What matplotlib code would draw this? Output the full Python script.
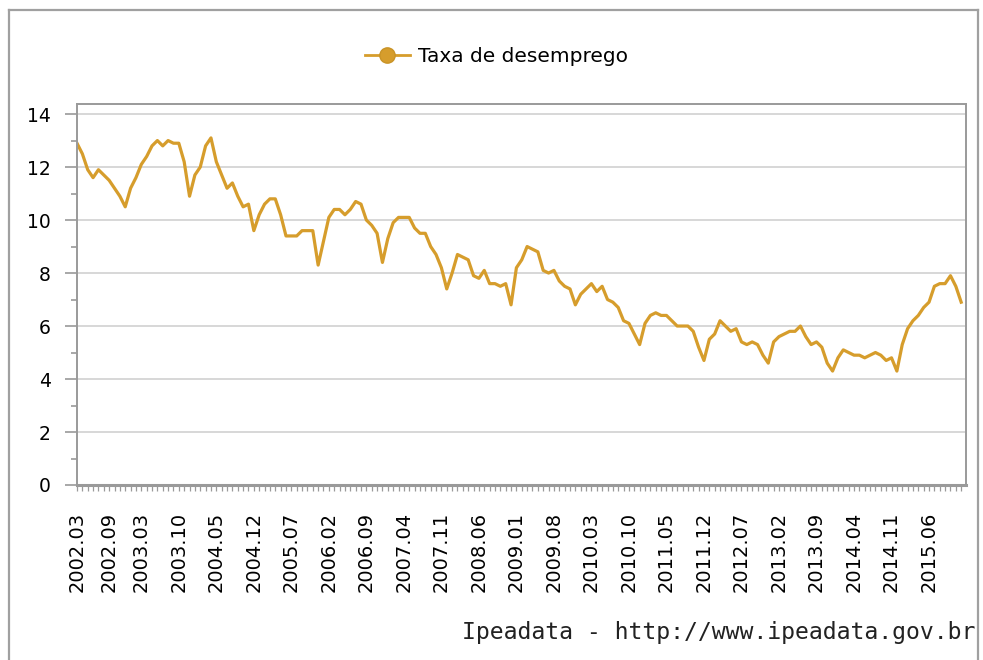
import numpy as np
import matplotlib
matplotlib.use("Agg")
import matplotlib.pyplot as plt
from matplotlib.lines import Line2D

# monthly unemployment rate (PME), 2002.03 .. 2015.12
start_year, start_month = 2002, 3
rate = [
    12.9, 12.5, 11.9, 11.6, 11.9, 11.7, 11.5, 11.2, 10.9, 10.5,             # 2002
    11.2, 11.6, 12.1, 12.4, 12.8, 13.0, 12.8, 13.0, 12.9, 12.9, 12.2, 10.9,  # 2003
    11.7, 12.0, 12.8, 13.1, 12.2, 11.7, 11.2, 11.4, 10.9, 10.5, 10.6, 9.6,   # 2004
    10.2, 10.6, 10.8, 10.8, 10.2, 9.4, 9.4, 9.4, 9.6, 9.6, 9.6, 8.3,         # 2005
    9.2, 10.1, 10.4, 10.4, 10.2, 10.4, 10.7, 10.6, 10.0, 9.8, 9.5, 8.4,      # 2006
    9.3, 9.9, 10.1, 10.1, 10.1, 9.7, 9.5, 9.5, 9.0, 8.7, 8.2, 7.4,           # 2007
    8.0, 8.7, 8.6, 8.5, 7.9, 7.8, 8.1, 7.6, 7.6, 7.5, 7.6, 6.8,              # 2008
    8.2, 8.5, 9.0, 8.9, 8.8, 8.1, 8.0, 8.1, 7.7, 7.5, 7.4, 6.8,              # 2009
    7.2, 7.4, 7.6, 7.3, 7.5, 7.0, 6.9, 6.7, 6.2, 6.1, 5.7, 5.3,              # 2010
    6.1, 6.4, 6.5, 6.4, 6.4, 6.2, 6.0, 6.0, 6.0, 5.8, 5.2, 4.7,              # 2011
    5.5, 5.7, 6.2, 6.0, 5.8, 5.9, 5.4, 5.3, 5.4, 5.3, 4.9, 4.6,              # 2012
    5.4, 5.6, 5.7, 5.8, 5.8, 6.0, 5.6, 5.3, 5.4, 5.2, 4.6, 4.3,              # 2013
    4.8, 5.1, 5.0, 4.9, 4.9, 4.8, 4.9, 5.0, 4.9, 4.7, 4.8, 4.3,              # 2014
    5.3, 5.9, 6.2, 6.4, 6.7, 6.9, 7.5, 7.6, 7.6, 7.9, 7.5, 6.9,              # 2015
]
tick_labels = ["2002.03", "2002.09", "2003.03", "2003.10", "2004.05", "2004.12",
               "2005.07", "2006.02", "2006.09", "2007.04", "2007.11", "2008.06",
               "2009.01", "2009.08", "2010.03", "2010.10", "2011.05", "2011.12",
               "2012.07", "2013.02", "2013.09", "2014.04", "2014.11", "2015.06"]
y_ticks = [0, 2, 4, 6, 8, 10, 12, 14]

LINE = "#D69D2C"
GRAY = "#9a9a9a"
FONT = "DejaVu Sans"


def month_index(label):
    y, m = label.split(".")
    return (int(y) - start_year) * 12 + int(m) - start_month


x = np.arange(len(rate))
tick_pos = [month_index(l) for l in tick_labels]

fig = plt.figure(figsize=(9.83, 6.60), dpi=100)
ax = fig.add_axes([77 / 983, 1 - 485 / 660, (966 - 77) / 983, (485 - 104) / 660])

ax.plot(x, rate, color=LINE, linewidth=2.3, solid_joinstyle="round")

ax.set_xlim(0, 165.9)
ax.set_ylim(0, 14.38)

# grid
ax.set_yticks(y_ticks)
ax.set_yticks(np.arange(0, 15, 1), minor=True)
ax.yaxis.grid(True, which="major", color="#d4d4d4", linewidth=1.3)
ax.set_axisbelow(True)

ax.set_xticks(tick_pos)
ax.set_xticklabels(tick_labels, rotation=90, fontsize=14, family=FONT)
ax.set_xticks(x, minor=True)
ax.set_yticklabels([str(v) for v in y_ticks], fontsize=13.5, family=FONT)

ax.tick_params(axis="x", which="both", direction="out", length=4.5, width=0.9,
               color=GRAY, pad=15)
ax.tick_params(axis="y", which="major", direction="out", length=9, width=1.2,
               color=GRAY, pad=10)
ax.tick_params(axis="y", which="minor", direction="out", length=4, width=1.2,
               color=GRAY)

for side, sp in ax.spines.items():
    sp.set_color(GRAY)
    sp.set_linewidth(1.4)
ax.spines["bottom"].set_linewidth(2.2)

# legend
handle = Line2D([], [], color=LINE, linewidth=2, marker="o", markersize=11,
                markerfacecolor=LINE, markeredgecolor="#c99326")
fig.legend([handle], ["Taxa de desemprego"], loc="center",
           bbox_to_anchor=(0.505, 1 - 57 / 660), frameon=False,
           prop={"family": FONT, "size": 14.5}, handlelength=2.2, handletextpad=0.4)

# footer
fig.text(975 / 983, 1 - 632 / 660, "Ipeadata - http://www.ipeadata.gov.br",
         ha="right", va="center", fontsize=16.7, family="DejaVu Sans Mono",
         color="#222222")

# outer frame
for xs, ys in [([9, 9], [0, 660 - 10]), ([9, 978], [650, 650]), ([978, 978], [650, 0])]:
    fig.add_artist(Line2D(np.array(xs) / 983, np.array(ys) / 660, color="#a0a0a0",
                          linewidth=1.6))

fig.savefig("out.png", dpi=100)
